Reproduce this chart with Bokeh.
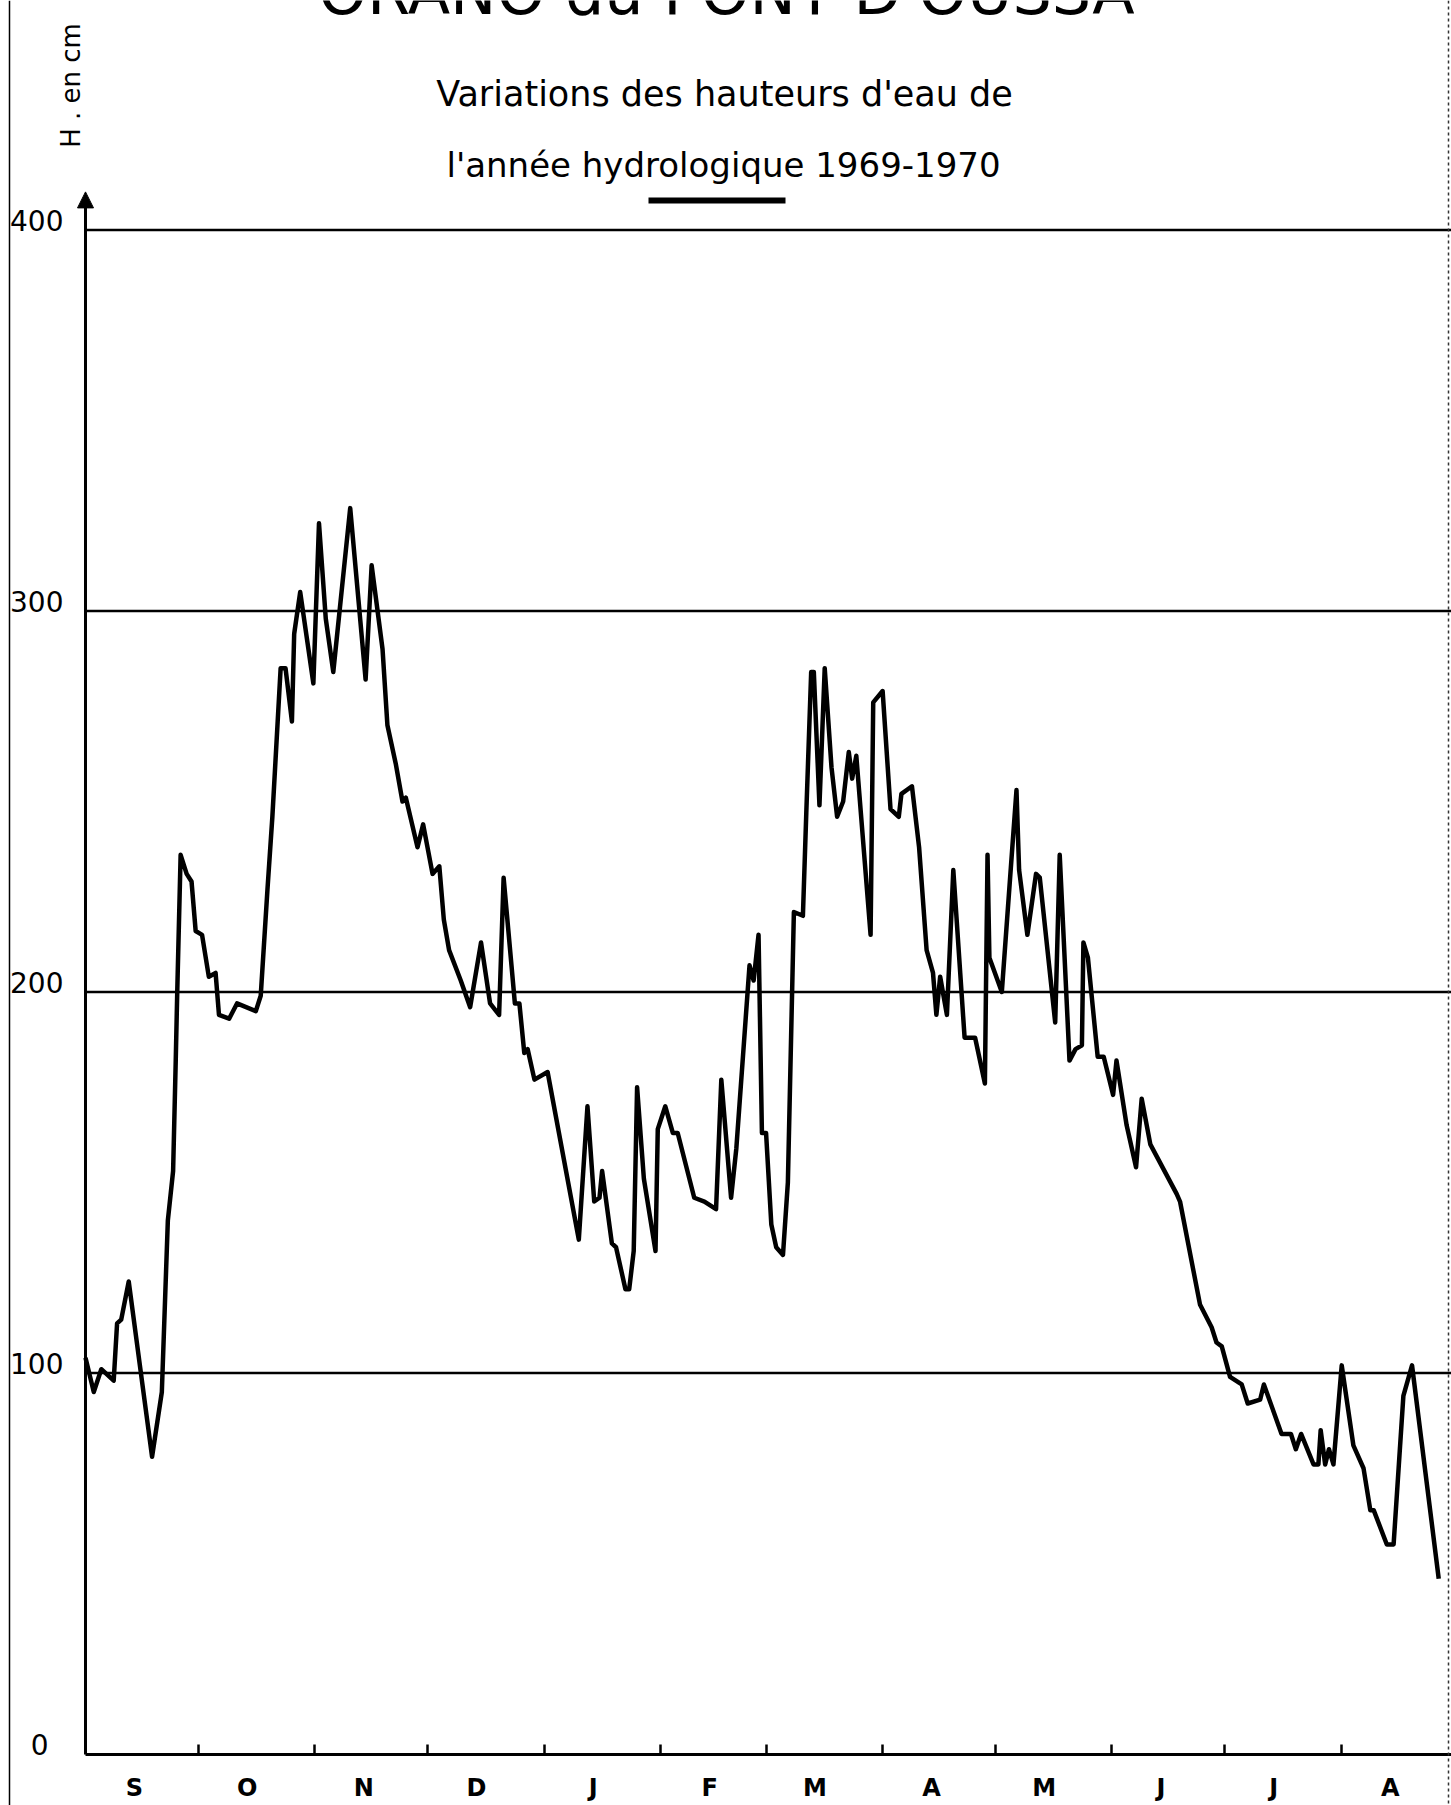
import math
from bokeh.plotting import figure
from bokeh.models import (Range1d, FixedTicker, Label, Arrow, NormalHead,
                          BoxAnnotation, LinearAxis, Span)
from bokeh.embed import file_html
from bokeh.resources import INLINE

# ---------------- data ----------------
# day of the hydrological year (0 = 1 September 1969), water height in cm
days = [0.0, 2.2, 4.2, 7.5, 8.4, 9.5, 11.5, 14.6, 17.7, 20.3, 21.9, 23.3, 24.0,
        24.4, 25.3, 26.9, 28.2, 29.3, 31.0, 32.8, 34.6, 35.5, 38.2, 40.3, 45.3,
        46.6, 48.4, 49.7, 51.9, 53.2, 54.9, 55.5, 57.1, 60.6, 62.1, 63.9, 65.9,
        70.4, 74.5, 76.1, 79.0, 80.3, 82.5, 84.3, 85.2, 88.3, 89.8, 92.3, 94.1,
        95.3, 96.7, 99.8, 102.3, 105.2, 107.6, 110.0, 111.2, 114.2, 115.4, 116.7,
        117.6, 119.4, 122.9, 131.2, 133.5, 135.3, 136.7, 137.4, 140.0, 141.1,
        143.6, 144.6, 145.8, 146.7, 148.5, 151.6, 152.2, 154.2, 156.2, 157.5,
        161.9, 164.6, 167.7, 169.1, 171.7, 173.1, 176.6, 177.7, 179.0, 179.9,
        181.0, 182.4, 183.7, 185.5, 186.8, 188.4, 190.8, 191.7, 193.0, 193.7,
        195.2, 196.6, 198.4, 199.9, 201.5, 203.0, 203.9, 205.0, 208.8, 209.5,
        212.0, 214.1, 216.3, 217.0, 219.8, 221.7, 223.7, 225.4, 226.3, 227.3,
        229.1, 230.8, 233.8, 236.6, 239.2, 239.9, 240.4, 243.7, 247.6, 248.3,
        250.5, 252.8, 253.8, 257.9, 259.1, 261.7, 263.3, 265.0, 265.4, 266.6,
        269.2, 270.8, 273.3, 274.2, 276.9, 279.4, 280.9, 283.2, 290.2, 291.1,
        296.4, 299.5, 300.8, 302.2, 304.4, 307.5, 309.1, 312.4, 313.4, 318.1,
        320.6, 321.9, 323.3, 326.6, 327.9, 328.5, 329.7, 330.7, 331.9, 334.1,
        337.2, 339.9, 341.7, 342.6, 346.1, 347.9, 350.5, 352.8, 359.9]
heights = [104, 95, 101, 98, 113, 114, 124, 101, 78, 95, 140, 153, 182,
           200, 236, 231, 229, 216, 215, 204, 205, 194, 193, 197, 195,
           199, 227, 246, 285, 285, 271, 294, 305, 281, 323, 298, 284,
           327, 282, 312, 290, 270, 260, 250, 251, 238, 244, 231, 233,
           219, 211, 203, 196, 213, 197, 194, 230, 197, 197, 184,
           185, 177, 179, 135, 170, 145, 146, 153, 134, 133,
           122, 122, 132, 175, 151, 132, 164, 170, 163, 163,
           146, 145, 143, 177, 146, 159, 207, 203, 215, 163,
           163, 139, 133, 131, 150, 221, 220, 247, 284, 284,
           249, 285, 259, 246, 250, 263, 256, 262, 215, 276,
           279, 248, 246, 252, 254, 238, 211, 205, 194, 204,
           194, 232, 188, 188, 176, 236, 209, 200, 253, 232,
           215, 231, 230, 192, 236, 182, 185, 186, 213, 209,
           183, 183, 173, 182, 165, 154, 172, 160, 147, 145,
           118, 112, 108, 107, 99, 97, 92, 93, 97, 84,
           84, 80, 84, 76, 76, 85, 76, 80, 76, 102,
           81, 75, 64, 64, 55, 55, 94, 102, 46]

months = ["S", "O", "N", "D", "J", "F", "M", "A", "M", "J", "J", "A"]
month_days = [30, 31, 30, 31, 31, 28, 31, 30, 31, 30, 31, 31]
y_ticks = [0, 100, 200, 300, 400]
grid_levels = [100, 200, 300, 400]

title_top = "ORANO du PONT D'OUSSA"
title_1 = "Variations des hauteurs d'eau de"
title_2 = "l'année hydrologique 1969-1970"
y_label = "H . en cm"

# ---------------- layout ----------------
W, H = 1451, 1805
left_px, zero_px = 85, 1753.5          # position of the axes on the canvas
px_day = 3.76
px_cm = 3.81
x_start = -left_px / px_day
x_end = (W - left_px) / px_day
y_top = zero_px / px_cm
y_bot = -(H - zero_px) / px_cm
y_axis_top = 409
lab_shift = 10 / px_cm                 # tick labels sit a little above their lines

month_starts = [sum(month_days[:i]) for i in range(len(month_days))]
boundaries = month_starts[1:]
label_pos = [s + 13 for s in month_starts]

p = figure(width=W, height=H, x_range=Range1d(x_start, x_end),
           y_range=Range1d(y_bot, y_top), output_backend="svg",
           toolbar_location=None, min_border=0, x_axis_type=None,
           y_axis_type=None)
p.outline_line_color = None
p.background_fill_color = "white"
p.border_fill_color = "white"
p.extra_y_ranges = {"labels": Range1d(y_bot - lab_shift, y_top - lab_shift)}

# grid lines starting at the y axis
p.segment(x0=[0] * len(grid_levels), y0=grid_levels,
          x1=[x_end] * len(grid_levels), y1=grid_levels,
          line_color="black", line_width=2.5)

# data
p.line(days, heights, line_color="black", line_width=4.5, line_join="round")

# x axis
xaxis = LinearAxis(fixed_location=0, bounds=(0, x_end),
                   ticker=FixedTicker(ticks=label_pos, minor_ticks=boundaries),
                   major_label_overrides={pos: m for pos, m in zip(label_pos, months)})
xaxis.axis_line_width = 3
xaxis.axis_line_color = "black"
xaxis.major_tick_line_color = None
xaxis.minor_tick_in = 10
xaxis.minor_tick_out = 0
xaxis.minor_tick_line_width = 2.5
xaxis.minor_tick_line_color = "black"
xaxis.major_label_standoff = 14
xaxis.major_label_text_font = "DejaVu Sans"
xaxis.major_label_text_font_style = "bold"
xaxis.major_label_text_font_size = "24px"
xaxis.major_label_text_color = "black"
p.add_layout(xaxis, "below")

# y axis line (with arrow)
yaxis = LinearAxis(fixed_location=0, bounds=(0, y_axis_top),
                   ticker=FixedTicker(ticks=[]))
yaxis.axis_line_width = 3
yaxis.axis_line_color = "black"
yaxis.major_tick_line_color = None
yaxis.minor_tick_line_color = None
p.add_layout(yaxis, "left")

# y tick labels (two groups, to keep them centred under each other)
for ticks, standoff in ((y_ticks[1:], 16), (y_ticks[:1], 31)):
    ax = LinearAxis(fixed_location=0, y_range_name="labels",
                    ticker=FixedTicker(ticks=ticks))
    ax.axis_line_color = None
    ax.major_tick_line_color = None
    ax.minor_tick_line_color = None
    ax.major_label_standoff = standoff
    ax.major_label_text_font = "DejaVu Sans"
    ax.major_label_text_font_size = "28px"
    ax.major_label_text_color = "black"
    p.add_layout(ax, "left")

p.add_layout(Arrow(end=NormalHead(size=16, fill_color="black", line_color="black"),
                   x_start=0, y_start=395, x_end=0, y_end=y_axis_top + 1,
                   line_width=3, line_color="black"))

# page border lines
p.add_layout(Span(location=9, location_units="screen", dimension="height",
                  line_color="black", line_width=1.5))
p.add_layout(Span(location=W - 3, location_units="screen", dimension="height",
                  line_color="#333333", line_width=1.5, line_dash="3 3"))

# titles (screen units, measured from the bottom-left of the canvas)
def lab(text, x, y, size, angle=0.0, baseline="alphabetic", style="normal"):
    p.add_layout(Label(x=x, y=y, x_units="screen", y_units="screen", text=text,
                       text_font="DejaVu Sans", text_font_size=size,
                       text_font_style=style, text_align="center",
                       text_baseline=baseline, text_color="black", angle=angle))

lab(title_top, 726, H + 8, "62px")
lab(title_1, 724, H - 93, "35px")
lab(title_2, 723, H - 164, "34px")
lab(y_label, 70, H - 85, "26px", angle=math.pi / 2, baseline="middle")

p.add_layout(BoxAnnotation(left=648, right=785, top=H - 197, bottom=H - 203,
                           left_units="screen", right_units="screen",
                           top_units="screen", bottom_units="screen",
                           fill_color="black", fill_alpha=1.0, line_color=None))

open("out.html", "w").write(file_html(p, INLINE))
